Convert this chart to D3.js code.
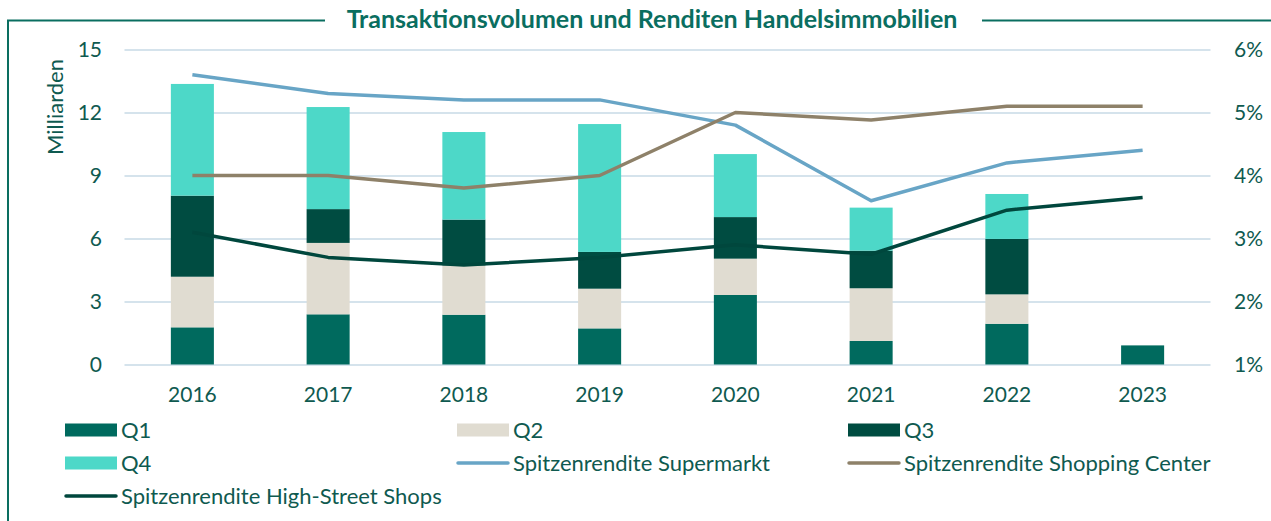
<!DOCTYPE html>
<html>
<head>
<meta charset="utf-8">
<script src="https://cdn.jsdelivr.net/npm/d3@7"></script>
<style>
  body { margin: 0; background: #fff; }
  svg { display: block; font-family: Lato, "Open Sans", sans-serif; }
</style>
</head>
<body>
<svg id="chart" width="1271" height="521"></svg>
<script>
// data
var years = ['2016', '2017', '2018', '2019', '2020', '2021', '2022', '2023']
var q1 = [1.77, 2.39, 2.37, 1.72, 3.31, 1.12, 1.94, 0.91]
var q2 = [2.41, 3.40, 2.35, 1.89, 1.73, 2.51, 1.40, 0]
var q3 = [3.86, 1.61, 2.18, 1.75, 1.98, 1.79, 2.64, 0]
var q4 = [5.32, 4.86, 4.17, 6.09, 3.00, 2.05, 2.14, 0]
var supermarkt = [5.6, 5.3, 5.2, 5.2, 4.8, 3.6, 4.2, 4.4]
var shoppingCenter = [4.0, 4.0, 3.8, 4.0, 5.0, 4.88, 5.1, 5.1]
var highStreet = [3.1, 2.7, 2.58, 2.7, 2.9, 2.75, 3.45, 3.65]
var leftTicks = [0, 3, 6, 9, 12, 15]
var rightTicks = [1, 2, 3, 4, 5, 6]

var quarters = [
  { name: 'Q1', values: q1, color: '#006A5E' },
  { name: 'Q2', values: q2, color: '#E0DCD1' },
  { name: 'Q3', values: q3, color: '#004C41' },
  { name: 'Q4', values: q4, color: '#4DD8C8' }
]
var lines = [
  { name: 'Spitzenrendite Supermarkt', values: supermarkt, color: '#68A5C6' },
  { name: 'Spitzenrendite Shopping Center', values: shoppingCenter, color: '#8E8169' },
  { name: 'Spitzenrendite High-Street Shops', values: highStreet, color: '#00473D' }
]

var textColor = '#0F5A50'
var font = 'Lato, "Open Sans", sans-serif'
var svg = d3.select('#chart')

var x = d3.scaleBand().domain(years).range([124.5, 1210.5])
  .paddingInner(0.683).paddingOuter(0.683 / 2)
var y = d3.scaleLinear().domain([0, 15]).range([364.5, 49.5])
var y2 = d3.scaleLinear().domain([1, 6]).range([364.5, 49.5])

// frame round the chart, broken for the title
svg.append('path')
  .attr('d', 'M8,521 V20.5 H325 M982,20.5 H1271')
  .attr('fill', 'none')
  .attr('stroke', '#0A6E60')
  .attr('stroke-width', 2)

svg.append('text')
  .attr('x', 652).attr('y', 28)
  .attr('text-anchor', 'middle')
  .attr('font-size', '25px')
  .attr('font-weight', 'bold')
  .attr('fill', '#0A6E60')
  .text('Transaktionsvolumen und Renditen Handelsimmobilien')

// gridlines
svg.append('g')
  .attr('transform', 'translate(124.5,0)')
  .call(d3.axisLeft(y).tickValues(leftTicks).tickSize(-1086).tickFormat(''))
  .call(function(g){
    g.select('.domain').remove()
    g.selectAll('line').attr('stroke', '#D5E3EC').attr('stroke-width', 2)
  })

var styleLabels = function(g){
  g.select('.domain').remove()
  g.selectAll('text').attr('font-size', '21px').attr('fill', textColor).attr('font-family', font)
}

// left axis labels
svg.append('g')
  .attr('transform', 'translate(102,0)')
  .call(d3.axisLeft(y).tickValues(leftTicks).tickSize(0).tickPadding(0))
  .call(styleLabels)

// right axis labels
svg.append('g')
  .attr('transform', 'translate(1234,0)')
  .call(d3.axisRight(y2).tickValues(rightTicks).tickSize(0).tickPadding(0)
    .tickFormat(function(d){ return d + '%' }))
  .call(styleLabels)

// x axis labels
svg.append('g')
  .attr('transform', 'translate(0,387)')
  .call(d3.axisBottom(x).tickSize(0).tickPadding(0))
  .call(styleLabels)

svg.append('text')
  .attr('transform', 'translate(63,107) rotate(-90)')
  .attr('text-anchor', 'middle')
  .attr('font-size', '22px')
  .attr('fill', textColor)
  .text('Milliarden')

// stacked bars
var stack = d3.stack().keys([0, 1, 2, 3]).value(function(d, k){ return quarters[k].values[d] })
var series = stack(d3.range(years.length))

svg.append('g').selectAll('g')
  .data(series)
  .enter().append('g')
  .attr('fill', function(s){ return quarters[s.key].color })
  .selectAll('rect')
  .data(function(s){ return s })
  .enter().append('rect')
  .attr('x', function(d){ return x(years[d.data]) })
  .attr('width', x.bandwidth())
  .attr('y', function(d){ return y(d[1]) })
  .attr('height', function(d){ return y(d[0]) - y(d[1]) })

// yield lines
var line = d3.line()
  .x(function(d, i){ return x(years[i]) + x.bandwidth() / 2 })
  .y(function(d){ return y2(d) })

svg.append('g').selectAll('path')
  .data(lines)
  .enter().append('path')
  .attr('d', function(l){ return line(l.values) })
  .attr('fill', 'none')
  .attr('stroke', function(l){ return l.color })
  .attr('stroke-width', 3.5)
  .attr('stroke-linejoin', 'round')

// legend
var legendItems = [
  { item: quarters[0], type: 'bar' }, { item: quarters[1], type: 'bar' }, { item: quarters[2], type: 'bar' },
  { item: quarters[3], type: 'bar' }, { item: lines[0], type: 'line' }, { item: lines[1], type: 'line' },
  { item: lines[2], type: 'line' }
]
var colX = [65, 457, 848]
var rowY = [430, 463, 496]

var legend = svg.append('g').selectAll('g')
  .data(legendItems)
  .enter().append('g')
  .attr('transform', function(d, i){ return 'translate(' + colX[i % 3] + ',' + rowY[Math.floor(i / 3)] + ')' })

legend.filter(function(d){ return d.type == 'bar' })
  .append('rect')
  .attr('x', 0).attr('y', -6.5)
  .attr('width', 52).attr('height', 13)
  .attr('fill', function(d){ return d.item.color })

legend.filter(function(d){ return d.type == 'line' })
  .append('line')
  .attr('x1', 1).attr('x2', 51)
  .attr('stroke', function(d){ return d.item.color })
  .attr('stroke-width', 3.5)
  .attr('stroke-linecap', 'round')

legend.append('text')
  .attr('x', 56).attr('y', 0)
  .attr('dy', '0.35em')
  .attr('font-size', '22px')
  .attr('fill', textColor)
  .text(function(d){ return d.item.name })
</script>
</body>
</html>
